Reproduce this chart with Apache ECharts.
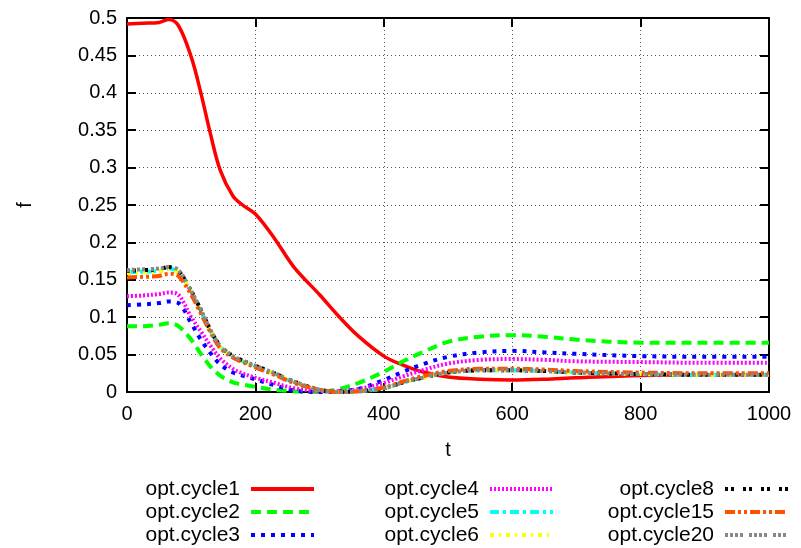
<!DOCTYPE html>
<html>
<head>
<meta charset="utf-8">
<script src="https://cdn.jsdelivr.net/npm/echarts@6/dist/echarts.min.js"></script>
<style>
html,body{margin:0;padding:0;background:#fff;}
#chart{width:801px;height:548px;}
</style>
</head>
<body>
<div id="chart"></div>
<script>
const tValues = [0, 25, 50, 65, 80, 100, 115, 130, 145, 165, 180, 200, 230, 260, 300, 330, 360, 400, 430, 460, 500, 550, 600, 650, 700, 800, 900, 1000];

const cycle1  = [0.492, 0.493, 0.494, 0.498, 0.490, 0.448, 0.400, 0.345, 0.297, 0.262, 0.250, 0.238, 0.205, 0.167, 0.130, 0.101, 0.075, 0.048, 0.036, 0.027, 0.020, 0.017, 0.016, 0.017, 0.019, 0.022, 0.023, 0.023];
const cycle2  = [0.088, 0.088, 0.090, 0.092, 0.088, 0.070, 0.051, 0.034, 0.022, 0.013, 0.010, 0.007, 0.003, 0.001, 0.000, 0.004, 0.012, 0.027, 0.041, 0.053, 0.067, 0.074, 0.076, 0.074, 0.070, 0.066, 0.066, 0.066];
const cycle3  = [0.116, 0.117, 0.119, 0.121, 0.119, 0.092, 0.070, 0.052, 0.037, 0.026, 0.022, 0.017, 0.009, 0.002, 0.000, 0.001, 0.004, 0.016, 0.027, 0.037, 0.047, 0.053, 0.055, 0.053, 0.051, 0.048, 0.047, 0.047];
const cycle4  = [0.128, 0.129, 0.131, 0.133, 0.130, 0.100, 0.081, 0.062, 0.045, 0.031, 0.025, 0.019, 0.012, 0.005, 0.001, 0.001, 0.004, 0.012, 0.021, 0.029, 0.038, 0.043, 0.044, 0.043, 0.041, 0.040, 0.039, 0.039];
const cycle5  = [0.160, 0.161, 0.162, 0.165, 0.160, 0.133, 0.108, 0.082, 0.061, 0.047, 0.041, 0.034, 0.024, 0.013, 0.003, 0.000, 0.001, 0.005, 0.013, 0.019, 0.026, 0.029, 0.029, 0.028, 0.026, 0.024, 0.023, 0.023];
const cycle6  = [0.159, 0.160, 0.161, 0.164, 0.159, 0.133, 0.108, 0.082, 0.061, 0.047, 0.041, 0.034, 0.024, 0.013, 0.003, 0.000, 0.001, 0.005, 0.013, 0.019, 0.026, 0.029, 0.029, 0.028, 0.026, 0.024, 0.023, 0.023];
const cycle8  = [0.162, 0.163, 0.164, 0.167, 0.162, 0.135, 0.110, 0.083, 0.062, 0.048, 0.042, 0.035, 0.025, 0.014, 0.003, 0.000, 0.001, 0.005, 0.013, 0.019, 0.026, 0.029, 0.029, 0.028, 0.026, 0.024, 0.023, 0.023];
const cycle15 = [0.153, 0.154, 0.155, 0.158, 0.155, 0.130, 0.105, 0.080, 0.059, 0.046, 0.040, 0.033, 0.023, 0.012, 0.003, 0.000, 0.001, 0.006, 0.014, 0.021, 0.028, 0.031, 0.031, 0.030, 0.028, 0.026, 0.025, 0.025];
const cycle20 = [0.163, 0.164, 0.165, 0.167, 0.163, 0.135, 0.110, 0.083, 0.062, 0.048, 0.042, 0.035, 0.025, 0.014, 0.003, 0.000, 0.001, 0.005, 0.013, 0.019, 0.026, 0.029, 0.029, 0.028, 0.026, 0.024, 0.023, 0.023];

const seriesNames = ['opt.cycle1','opt.cycle2','opt.cycle3','opt.cycle4','opt.cycle5','opt.cycle6','opt.cycle8','opt.cycle15','opt.cycle20'];
const seriesValues = [cycle1, cycle2, cycle3, cycle4, cycle5, cycle6, cycle8, cycle15, cycle20];
const xTicks = {min: 0, max: 1000, interval: 200};
const yTicks = {min: 0, max: 0.5, interval: 0.05};

const styles = [
  {color: '#ff0000', type: 'solid', width: 3.5},
  {color: '#00ff00', type: [10, 6], width: 4},
  {color: '#0000ff', type: [4, 6], width: 4},
  {color: '#ff00ff', type: [2, 2], width: 4},
  {color: '#00ffff', type: [9, 4, 3, 4], width: 4},
  {color: '#ffff00', type: [4, 5, 2, 5], width: 4},
  {color: '#000000', type: [3, 3, 3, 9], width: 4},
  {color: '#ff5000', type: [10, 3, 3, 3, 3, 3], width: 4},
  {color: '#888888', type: [3, 2, 3, 2, 3, 2, 3, 6], width: 4}
];

const FONT = 'Liberation Sans, Arial, sans-serif';
const FS = 20;

const series = seriesNames.map((name, i) => ({
  name: name,
  type: 'line',
  smooth: 0.35,
  symbol: 'none',
  showSymbol: false,
  xAxisIndex: 0,
  yAxisIndex: 0,
  data: tValues.map((t, k) => [t, seriesValues[i][k]]),
  lineStyle: {color: styles[i].color, type: styles[i].type, width: styles[i].width, cap: 'butt'},
  itemStyle: {color: styles[i].color},
  animation: false
}));

function legendCol(names, right) {
  return {
    data: names,
    orient: 'vertical',
    align: 'right',
    right: right,
    top: 478,
    padding: 0,
    itemWidth: 63,
    itemHeight: 14,
    itemGap: 1,
    itemStyle: {opacity: 0},
    lineStyle: {width: 4, cap: 'butt'},
    textStyle: {fontFamily: FONT, fontSize: 21, color: '#000', lineHeight: 22, padding: [0, 6, 0, 0]},
    selectedMode: false
  };
}

const option = {
  animation: false,
  backgroundColor: '#fff',
  grid: {left: 127, right: 32, top: 18, bottom: 156, containLabel: false},
  legend: [
    legendCol(seriesNames.slice(0, 3), 485),
    legendCol(seriesNames.slice(3, 6), 246),
    legendCol(seriesNames.slice(6, 9), 11)
  ],
  xAxis: [
    {
      type: 'value', min: xTicks.min, max: xTicks.max, interval: xTicks.interval,
      name: 't', nameLocation: 'middle', nameGap: 48,
      nameTextStyle: {fontFamily: FONT, fontSize: FS, color: '#000'},
      axisLine: {show: true, lineStyle: {color: '#000', width: 2}},
      axisTick: {show: true, inside: true, length: 9, lineStyle: {color: '#000', width: 2}},
      axisLabel: {fontFamily: FONT, fontSize: FS, color: '#000', margin: 12, formatter: v => String(v)},
      splitLine: {show: true, lineStyle: {color: '#555', type: [1, 3], width: 1}}
    },
    {
      type: 'value', min: xTicks.min, max: xTicks.max, interval: xTicks.interval,
      position: 'top',
      axisLine: {show: true, onZero: false, lineStyle: {color: '#000', width: 2}},
      axisTick: {show: true, inside: true, length: 9, lineStyle: {color: '#000', width: 2}},
      axisLabel: {show: false},
      splitLine: {show: false}
    }
  ],
  yAxis: [
    {
      type: 'value', min: yTicks.min, max: yTicks.max, interval: yTicks.interval,
      name: 'f', nameLocation: 'middle', nameGap: 92,
      nameTextStyle: {fontFamily: FONT, fontSize: FS, color: '#000'},
      axisLine: {show: true, lineStyle: {color: '#000', width: 2}},
      axisTick: {show: true, inside: true, length: 9, lineStyle: {color: '#000', width: 2}},
      axisLabel: {fontFamily: FONT, fontSize: FS, color: '#000', margin: 10},
      splitLine: {show: true, lineStyle: {color: '#555', type: [1, 3], width: 1}}
    },
    {
      type: 'value', min: yTicks.min, max: yTicks.max, interval: yTicks.interval,
      position: 'right',
      axisLine: {show: true, onZero: false, lineStyle: {color: '#000', width: 2}},
      axisTick: {show: true, inside: true, length: 9, lineStyle: {color: '#000', width: 2}},
      axisLabel: {show: false},
      splitLine: {show: false}
    }
  ],
  series: series
};

const chart = echarts.init(document.getElementById('chart'), null, {renderer: 'canvas'});
chart.setOption(option);
</script>
</body>
</html>
